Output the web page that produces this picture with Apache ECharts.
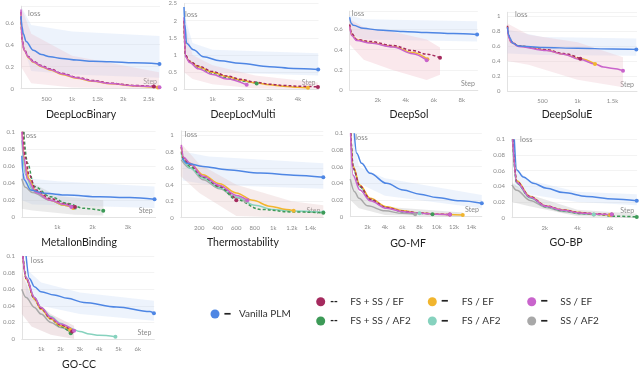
<!DOCTYPE html>
<html><head><meta charset="utf-8">
<script src="https://cdn.jsdelivr.net/npm/echarts@6/dist/echarts.min.js"></script>
<style>html,body{margin:0;padding:0;background:#fff}#c{width:640px;height:371px}</style>
</head><body><div id="c"></div><script>
// ---------------- DATA ----------------
const seriesKeys = ['vanilla','fsssEf','fsEf','ssEf','fsssAf2','fsAf2','ssAf2'];
const seriesNames = ['Vanilla PLM','FS + SS / EF','FS / EF','SS / EF','FS + SS / AF2','FS / AF2','SS / AF2'];
const panelTitles = ['DeepLocBinary','DeepLocMulti','DeepSol','DeepSoluE','MetalIonBinding','Thermostability','GO-MF','GO-BP','GO-CC'];
const xMaxes = [2720, 4720, 9150, 1850, 3780, 1540, 15200, 7650, 6850];
const yMaxes = [0.75, 2.5, 0.78, 1.05, 0.1, 1.05, 0.1, 0.1, 0.1];
const xIntervals = [500, 1000, 2000, 500, 1000, 200, 2000, 2000, 1000];
const yIntervals = [0.2, 0.5, 0.2, 0.2, 0.02, 0.2, 0.02, 0.02, 0.02];

const deepLocBinary = {
  vanilla: [[0,0.66],[20,0.56],[45,0.50],[100,0.43],[240,0.35],[400,0.31],[570,0.29],[800,0.275],[1090,0.26],[1400,0.25],[1750,0.245],[2200,0.235],[2710,0.225]],
  fsssEf: [[0,0.70],[20,0.45],[60,0.36],[150,0.29],[240,0.25],[400,0.21],[570,0.18],[800,0.14],[1090,0.105],[1400,0.075],[1750,0.05],[2200,0.03],[2600,0.02]],
  fsEf: [[0,0.68],[20,0.44],[60,0.35],[150,0.28],[240,0.24],[400,0.2],[570,0.17],[800,0.13],[1090,0.095],[1400,0.068],[1750,0.045],[2200,0.025],[2680,0.01]],
  ssEf: [[0,0.72],[20,0.44],[60,0.35],[150,0.285],[240,0.245],[400,0.205],[570,0.175],[800,0.135],[1090,0.1],[1400,0.07],[1750,0.047],[2200,0.027],[2710,0.013]]
};
const deepLocMulti = {
  vanilla: [[0,2.4],[30,1.9],[90,1.34],[330,1.15],[680,0.95],[1260,0.83],[1960,0.76],[3000,0.66],[3840,0.61],[4710,0.58]],
  fsssEf: [[0,2.0],[50,1.0],[200,0.82],[500,0.68],[1000,0.52],[1500,0.39],[2000,0.29],[2500,0.21],[3000,0.15],[3500,0.11],[4000,0.09],[4700,0.07]],
  fsEf: [[0,2.0],[50,0.98],[200,0.8],[500,0.66],[1000,0.5],[1500,0.37],[2000,0.27],[2500,0.19],[3000,0.13],[3500,0.09],[4000,0.06],[4350,0.045]],
  ssEf: [[0,2.1],[50,0.95],[200,0.78],[500,0.6],[1000,0.43],[1500,0.3],[2200,0.13]],
  fsssAf2: [[0,2.0],[50,0.97],[200,0.8],[500,0.64],[1000,0.47],[1500,0.34],[2000,0.24],[2550,0.17]]
};
const deepSol = {
  vanilla: [[0,0.72],[100,0.66],[260,0.64],[970,0.61],[2000,0.595],[3800,0.58],[5500,0.57],[7400,0.56],[9100,0.55]],
  fsssEf: [[0,0.65],[140,0.56],[500,0.5],[1450,0.48],[3100,0.44],[4500,0.39],[5500,0.355],[6450,0.32]],
  fsEf: [[0,0.64],[140,0.55],[500,0.495],[1450,0.47],[3100,0.43],[4500,0.37],[5550,0.305]],
  ssEf: [[0,0.63],[140,0.54],[500,0.49],[1450,0.465],[3100,0.425],[4500,0.36],[5500,0.295]]
};
const deepSoluE = {
  vanilla: [[0,0.85],[15,0.75],[40,0.70],[70,0.64],[160,0.6],[500,0.58],[1000,0.57],[1500,0.56],[1840,0.555]],
  fsssEf: [[0,0.87],[15,0.74],[50,0.66],[160,0.6],[560,0.55],[800,0.5],[1040,0.43]],
  fsEf: [[0,0.86],[15,0.73],[50,0.65],[160,0.6],[560,0.545],[800,0.49],[1040,0.43],[1250,0.36]],
  ssEf: [[0,0.85],[15,0.72],[50,0.65],[160,0.595],[560,0.54],[800,0.49],[1040,0.42],[1250,0.36],[1370,0.32],[1510,0.3],[1650,0.27]]
};
const metalIonBinding = {
  vanilla: [[0,0.072],[30,0.052],[65,0.044],[250,0.032],[630,0.028],[1280,0.026],[2200,0.024],[3050,0.023],[3750,0.021]],
  fsssEf: [[20,0.1],[100,0.07],[200,0.05],[400,0.032],[800,0.022],[1200,0.016],[1500,0.012]],
  fsEf: [[10,0.1],[100,0.06],[200,0.045],[400,0.03],[800,0.02],[1200,0.014],[1450,0.011]],
  ssEf: [[0,0.1],[60,0.07],[150,0.045],[400,0.029],[800,0.02],[1200,0.015],[1400,0.012]],
  fsssAf2: [[50,0.1],[160,0.063],[350,0.036],[810,0.024],[1280,0.0163],[1750,0.0105],[2300,0.0077]],
  fsAf2: [[0,0.09],[100,0.05],[300,0.032],[800,0.02],[1200,0.014],[1500,0.011]],
  ssAf2: [[0,0.045],[100,0.035],[300,0.029],[800,0.02],[1200,0.014],[1500,0.012]]
};
const thermostability = {
  vanilla: [[20,0.72],[60,0.66],[240,0.62],[500,0.58],[860,0.54],[1220,0.515],[1540,0.49]],
  fsssEf: [[5,0.86],[30,0.72],[100,0.64],[240,0.5],[420,0.38],[600,0.21]],
  fsEf: [[5,0.85],[30,0.72],[100,0.66],[240,0.52],[420,0.41],[600,0.3],[780,0.21],[960,0.14],[1140,0.1],[1220,0.085]],
  ssEf: [[5,0.88],[30,0.73],[100,0.66],[240,0.5],[420,0.39],[600,0.27],[720,0.21]],
  fsssAf2: [[5,0.8],[30,0.7],[100,0.62],[240,0.49],[420,0.37],[600,0.22],[860,0.1],[1200,0.07],[1540,0.06]],
  fsAf2: [[5,0.78],[30,0.68],[100,0.6],[240,0.48],[420,0.36],[600,0.25],[800,0.15],[1000,0.1],[1200,0.08],[1540,0.065]],
  ssAf2: [[5,0.7],[100,0.6],[240,0.46],[420,0.35],[600,0.24],[700,0.2]]
};
const goMF = {
  vanilla: [[460,0.1],[740,0.076],[1300,0.064],[2280,0.052],[4200,0.04],[6100,0.032],[8050,0.027],[10000,0.023],[12700,0.019],[15200,0.016]],
  fsssEf: [[50,0.1],[350,0.058],[1100,0.037],[2300,0.021],[4200,0.011],[6100,0.0065],[8000,0.0045],[10000,0.003],[11500,0.0025]],
  fsEf: [[50,0.1],[350,0.06],[1100,0.038],[2300,0.022],[4200,0.012],[6100,0.007],[8000,0.0045],[10000,0.003],[13000,0.002]],
  ssEf: [[30,0.1],[300,0.05],[1100,0.032],[2300,0.019],[4200,0.01],[6100,0.006],[8000,0.004],[10000,0.003],[11500,0.0025]],
  fsssAf2: [[60,0.1],[350,0.058],[1100,0.036],[2300,0.02],[4200,0.0105],[6100,0.006],[8000,0.004],[9500,0.003]],
  fsAf2: [[60,0.1],[350,0.057],[1100,0.036],[2300,0.02],[4200,0.011],[6100,0.006],[8000,0.004]],
  ssAf2: [[0,0.045],[500,0.03],[1000,0.022],[2000,0.013],[4000,0.007],[6000,0.004],[7500,0.003]]
};
const goBP = {
  vanilla: [[140,0.1],[290,0.061],[690,0.052],[1300,0.044],[2120,0.0375],[3140,0.032],[4570,0.027],[6200,0.024],[7630,0.0215]],
  fsssEf: [[60,0.1],[290,0.046],[1100,0.027],[2100,0.015],[3100,0.01],[4160,0.0065],[5200,0.005],[6100,0.004]],
  fsEf: [[50,0.1],[290,0.047],[1100,0.027],[2100,0.015],[3100,0.01],[4160,0.0065],[5200,0.0045],[6000,0.0035]],
  ssEf: [[40,0.1],[290,0.045],[1100,0.026],[2100,0.0145],[3100,0.0095],[4160,0.006],[5200,0.0045],[6100,0.004]],
  fsssAf2: [[30,0.1],[290,0.044],[1100,0.026],[2100,0.014],[3100,0.009],[4160,0.0055],[5200,0.004],[6200,0.002],[7630,0.001]],
  fsAf2: [[30,0.1],[290,0.044],[1100,0.025],[2100,0.014],[3100,0.009],[4160,0.0055],[5000,0.004]],
  ssAf2: [[0,0.042],[290,0.035],[1100,0.022],[2100,0.013],[3100,0.008],[4160,0.005],[5000,0.004]]
};
const goCC = {
  vanilla: [[220,0.1],[390,0.073],[650,0.063],[990,0.057],[1670,0.053],[2360,0.049],[3200,0.044],[4900,0.0385],[6630,0.033],[6830,0.031]],
  fsssEf: [[50,0.1],[220,0.073],[650,0.049],[990,0.037],[1500,0.025],[2000,0.017],[2600,0.009]],
  fsEf: [[50,0.1],[220,0.072],[650,0.048],[990,0.036],[1500,0.024],[2000,0.016],[2500,0.011]],
  ssEf: [[50,0.1],[220,0.074],[650,0.05],[990,0.038],[1500,0.026],[2000,0.018],[2700,0.01]],
  fsssAf2: [[60,0.1],[220,0.073],[650,0.048],[990,0.036],[1500,0.024],[2000,0.015],[2530,0.0069]],
  fsAf2: [[60,0.1],[220,0.074],[650,0.05],[990,0.038],[1500,0.027],[2000,0.019],[2500,0.013],[3000,0.009],[3500,0.006],[4000,0.0045],[4840,0.0028]],
  ssAf2: [[0,0.06],[220,0.05],[650,0.038],[990,0.03],[1500,0.02],[2000,0.014],[2500,0.009]]
};
const panelCurves = [deepLocBinary, deepLocMulti, deepSol, deepSoluE, metalIonBinding, thermostability, goMF, goBP, goCC];

// raw (unsmoothed) loss ranges, upper / lower envelopes
const blueNoiseUp = [
  [[0,0.75],[200,0.58],[1000,0.52],[2710,0.48]],
  [[0,2.2],[300,1.35],[1000,1.15],[4710,1.05]],
  [[0,0.74],[1000,0.7],[9100,0.68]],
  [[0,0.82],[500,0.72],[1840,0.7]],
  [[0,0.06],[300,0.045],[1000,0.042],[3750,0.036]],
  [[20,0.8],[300,0.74],[1540,0.66]],
  [[300,0.1],[1000,0.06],[4000,0.046],[15200,0.026]],
  [[150,0.065],[1000,0.048],[4000,0.033],[7630,0.03]],
  [[200,0.085],[1000,0.068],[3000,0.056],[6830,0.046]]
];
const blueNoiseLow = [
  [[0,0.45],[200,0.16],[1000,0.13],[2710,0.1]],
  [[0,1.2],[300,0.7],[1000,0.5],[4710,0.4]],
  [[0,0.55],[1000,0.5],[9100,0.48]],
  [[0,0.5],[500,0.48],[1840,0.47]],
  [[0,0.02],[300,0.015],[3750,0.011]],
  [[20,0.45],[300,0.4],[1540,0.35]],
  [[300,0.06],[1000,0.04],[4000,0.025],[15200,0.01]],
  [[150,0.04],[1000,0.03],[4000,0.02],[7630,0.016]],
  [[200,0.05],[1000,0.04],[3000,0.03],[6830,0.022]]
];
const otherNoiseUp = [
  [[0,0.75],[200,0.5],[1000,0.3],[2700,0.15]],
  [[0,2.0],[300,1.0],[1000,0.7],[2500,0.4],[4700,0.2]],
  [[0,0.7],[1000,0.62],[3000,0.58],[5500,0.5],[6450,0.42]],
  [[0,0.9],[300,0.75],[1000,0.65],[1650,0.45]],
  [[0,0.05],[300,0.04],[1000,0.025],[2300,0.02]],
  [[0,0.9],[200,0.65],[600,0.4],[1200,0.2],[1540,0.15]],
  [[0,0.06],[1000,0.03],[4000,0.012],[13000,0.005]],
  [[0,0.045],[1000,0.03],[4000,0.01],[7630,0.005]],
  [[0,0.08],[500,0.05],[1500,0.03],[2700,0.016]]
];
const otherNoiseLow = [
  [[0,0.2],[200,0.05],[1000,0.01],[2700,0]],
  [[0,0.5],[300,0.3],[1000,0.15],[2500,0.02],[4700,0]],
  [[0,0.45],[1000,0.3],[3000,0.2],[5500,0.1],[6450,0.15]],
  [[0,0.4],[300,0.35],[1000,0.15],[1650,0.05]],
  [[0,0.01],[300,0.008],[1500,0.003],[2300,0.002]],
  [[0,0.5],[200,0.3],[600,0.02],[1200,0],[1540,0]],
  [[0,0.02],[1000,0.01],[4000,0.002],[13000,0]],
  [[0,0.02],[1000,0.015],[4000,0.002],[7630,0]],
  [[0,0.03],[500,0.015],[1500,0.005],[2700,0]]
];

// ---------------- STYLE / LAYOUT ----------------
const seriesColors = ['#4E86E4','#A52A5E','#F1B52E','#C964CC','#3D9A57','#86D2BE','#A8A8A8'];
const seriesDashed = [false,true,false,false,true,false,false];
const otherNoiseColors = ['rgba(236,190,200,0.3)','rgba(236,190,200,0.3)','rgba(240,190,200,0.35)','rgba(236,190,200,0.3)','rgba(190,190,190,0.3)','rgba(225,190,190,0.3)','rgba(190,190,190,0.35)','rgba(190,190,190,0.35)','rgba(215,180,185,0.35)'];
const blueNoiseColor = 'rgba(190,212,245,0.27)';
const grids = [
  {left:21, top:6.2, width:139, height:82.5},
  {left:184, top:3.55, width:134.5, height:85.75},
  {left:349.7, top:11.2, width:128.1, height:78.8},
  {left:507.5, top:12.25, width:129.5, height:78.75},
  {left:21, top:131.7, width:134.6, height:85.6},
  {left:180.8, top:130.9, width:142.5, height:86.8},
  {left:350.3, top:133.3, width:131.5, height:83.4},
  {left:512, top:139.3, width:125.1, height:78.4},
  {left:20.7, top:256, width:133.6, height:83}
];
// [x offset from axis, y offset from plot top] of the "loss" label
const lossOffsets = [[7,7.8],[1,11.4],[2,2.8],[7.5,2.8],[2,4],[4,4.1],[5,4],[8,0.5],[9,4.7]];
const titlePos = [[81,115],[243,115],[409,115],[567,115],[79,243],[243,243],[408,244],[566,243],[79,365]];

const FONT = 'Lato, "Open Sans", sans-serif';
const xAxes = [], yAxes = [], series = [], graphics = [];
grids.forEach((g, i) => {
  xAxes.push({
    type:'value', gridIndex:i, min:0, max:xMaxes[i], interval:xIntervals[i],
    name:'Step', nameLocation:'end', nameGap:-3,
    nameTextStyle:{color:'#8a8a8a', fontSize:7, fontFamily:FONT, align:'right', verticalAlign:'bottom', padding:[0,0,3,0]},
    axisLine:{show:true, lineStyle:{color:'#e2e2e2', width:1}},
    axisTick:{show:false}, splitLine:{show:false},
    axisLabel:{color:'#8a8a8a', fontSize:6, fontFamily:FONT, margin:7, showMaxLabel:false,
      formatter:v => { if (v===0 || v % xIntervals[i] !== 0) return ''; return v>=1000 ? (v/1000)+'k' : String(v); }}
  });
  yAxes.push({
    type:'value', gridIndex:i, min:0, max:yMaxes[i], interval:yIntervals[i],
    name:'loss', nameLocation:'end', nameGap:-lossOffsets[i][1],
    nameTextStyle:{color:'#8a8a8a', fontSize:7.5, fontFamily:FONT, align:'left', verticalAlign:'middle', padding:[0,0,0,lossOffsets[i][0]]},
    axisLine:{show:true, lineStyle:{color:'#e2e2e2', width:1}},
    axisTick:{show:false},
    splitLine:{show:true, lineStyle:{color:'#f3f3f3', width:1}},
    axisLabel:{color:'#8a8a8a', fontSize:6, fontFamily:FONT, margin:7, showMaxLabel:true,
      formatter:v => { const r = v / yIntervals[i]; if (Math.abs(r - Math.round(r)) > 1e-6) return ''; return String(parseFloat(v.toFixed(4))); }}
  });
  const band = (up, low, color, z) => {
    const pts = up.concat(low.slice().reverse());
    return {type:'custom', xAxisIndex:i, yAxisIndex:i, data:pts, silent:true, clip:true, z:z,
      encode:{x:0, y:1}, animation:false,
      renderItem:(params, api) => {
        if (params.dataIndex !== 0) return null;
        return {type:'polygon', shape:{points:pts.map(p => api.coord(p))}, style:{fill:color}};
      }};
  };
  series.push(band(blueNoiseUp[i], blueNoiseLow[i], blueNoiseColor, 1));
  series.push(band(otherNoiseUp[i], otherNoiseLow[i], otherNoiseColors[i], 1));
  const curves = panelCurves[i];
  const order = [6,5,4,2,1,3,0];
  order.forEach(k => {
    const data = curves[seriesKeys[k]];
    if (!data) return;
    const last = data.length - 1;
    series.push({
      type:'line', name:seriesNames[k], xAxisIndex:i, yAxisIndex:i, data:data,
      smooth:0.35, smoothMonotone:'x', showSymbol:true, showAllSymbol:true, symbol:'circle',
      symbolSize:(v, p) => p.dataIndex === last ? 4 : 0,
      lineStyle:{width:1.5, color:seriesColors[k], type: seriesDashed[k] ? [3,2] : 'solid'},
      itemStyle:{color:seriesColors[k]}, emphasis:{disabled:true}, z: 3 + (k===0?2:1),
      animation:false, clip:true
    });
  });
  graphics.push({type:'text', x:titlePos[i][0], y:titlePos[i][1],
    style:{text:panelTitles[i], font:'10.5px ' + FONT, fill:'#1e1e1e', textAlign:'center', textVerticalAlign:'middle'}});
});

const legendBase = (names, left, top, boxW) => ({
  data:names, orient:'vertical', left:left, top:top, icon:'circle', itemWidth:9, itemHeight:9, itemGap:9.3,
  selectedMode:false, padding:0,
  textStyle:{fontFamily:FONT, fontSize:10, color:'#333',
    rich:{s:{fontSize:10, fontWeight:'bold', width:boxW, color:'#222', fontFamily:'DejaVu Sans'},
          d:{fontSize:9, fontWeight:'bold', width:boxW, color:'#222', fontFamily:'DejaVu Sans'}}},
  formatter:name => { const k = seriesNames.indexOf(name); return (seriesDashed[k] ? '{d|--}' : '{s|━}') + name; }
});

const option = {
  backgroundColor:'#fff', animation:false,
  grid: grids.map(g => Object.assign({containLabel:false}, g)),
  xAxis:xAxes, yAxis:yAxes, series:series,
  legend:[
    legendBase([seriesNames[0]], 210.5, 309, 14.5),
    legendBase([seriesNames[1], seriesNames[4]], 316.2, 296.7, 20),
    legendBase([seriesNames[2], seriesNames[5]], 427.8, 296.7, 20),
    legendBase([seriesNames[3], seriesNames[6]], 527.2, 296.7, 19)
  ],
  graphic:graphics
};
const chart = echarts.init(document.getElementById('c'), null, {renderer:'canvas'});
chart.setOption(option);
</script></body></html>
